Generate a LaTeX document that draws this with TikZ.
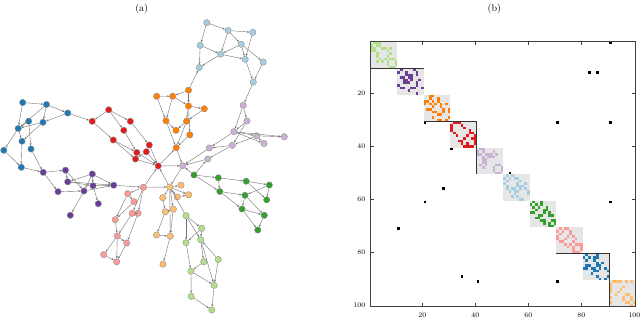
\documentclass[tikz,border=0pt]{standalone}
\usetikzlibrary{arrows.meta}
\definecolor{clg}{HTML}{B2DF8A}
\definecolor{cp}{HTML}{6A3D9A}
\definecolor{co}{HTML}{FF7F00}
\definecolor{cr}{HTML}{E31A1C}
\definecolor{clp}{HTML}{CAB2D6}
\definecolor{cl}{HTML}{A6CEE3}
\definecolor{cg}{HTML}{33A02C}
\definecolor{ck}{HTML}{FB9A99}
\definecolor{cb}{HTML}{1F78B4}
\definecolor{clo}{HTML}{FDBF6F}
\definecolor{blockbg}{HTML}{E6E6E6}
\def\edgesLG{1/2,1/4,1/3,2/3,2/4,3/6,3/8,4/7,5/8,5/3,6/7,7/8,7/9,8/10,9/10}
\def\edgesP{1/2,1/7,2/4,2/8,3/4,3/5,3/8,3/6,4/5,4/6,5/9,5/6,7/8,8/10,8/6}
\def\edgesO{1/3,1/4,2/3,2/6,3/6,3/4,4/5,4/7,5/7,6/8,6/10,7/8,7/10,9/10,4/9}
\def\edgesR{1/2,1/3,1/4,2/5,3/6,4/8,5/8,5/9,6/7,6/10,7/9,8/10,9/10,7/10}
\def\edgesLP{1/3,1/2,2/3,2/7,3/4,3/5,3/6,3/8,4/5,4/7,6/4,7/8,7/9,8/10,9/10}
\def\edgesL{1/2,1/4,2/3,2/5,2/6,3/7,4/6,4/9,5/6,5/8,5/7,6/7,6/9,7/10,8/10}
\def\edgesG{1/2,1/5,2/3,2/5,3/4,3/7,4/7,4/6,5/6,5/8,6/8,6/9,8/9,8/10,9/10}
\def\edgesK{1/2,1/4,1/5,2/3,2/6,3/6,4/5,4/7,5/8,6/7,7/8,7/9,7/10,9/10,8/10}
\def\edgesB{1/2,1/6,2/3,2/5,2/6,3/5,5/6,4/6,4/8,5/7,6/7,6/9,7/10,9/10}
\def\edgesLO{1/2,1/3,1/4,1/5,1/7,1/9,3/6,6/8,7/9,8/9,9/10,4/5,6/7}
\newcommand\mcell[3]{\fill[#1] ({370.7+(#2-1)*2.65},{41.7+(#3-1)*2.65}) rectangle ++(2.65,2.65);}
\newcommand\mpair[4]{\mcell{#1}{#2+#4}{#2+#3}\mcell{#1}{#2+#3}{#2+#4}}
\begin{document}
\begin{tikzpicture}[x=1pt,y=-1pt,
  vtx/.style={circle,draw=black!45,line width=0.35pt,inner sep=0pt,minimum size=6.4pt},
  edge/.style={draw=black!55,line width=0.4pt,-{Stealth[length=2.4pt,width=2pt]}},
  ticklab/.style={font=\fontsize{7}{8}\selectfont,inner sep=1pt},
  ticks/.style={draw=black!75,line width=0.5pt}]
\useasboundingbox (0,0) rectangle (640,319);
% ---------- titles
\node (la) at (141.7,8.8) {(a)};
\node (lb) at (494.3,8.8) {(b)};
% ---------- graph nodes
\foreach \n/\x/\y in {lg1/186/215.7,lg2/201.7/228.3,lg3/200.7/239.7,lg4/186/242.7,lg5/218.3/259.5,lg6/203.7/261.7,lg7/191/271.3,lg8/214.2/285.3,lg9/191.2/296.3,lg10/211.8/310}
  \node[vtx,fill=clg] (\n) at (\x,\y) {};
\foreach \n/\x/\y in {p1/43.2/172.3,p2/65.5/170.2,p3/92.3/174,p4/67.7/181.8,p5/93/185.7,p6/113.7/185.2,p7/58/191.7,p8/84/191,p9/98.3/203.7,p10/70.3/215.3}
  \node[vtx,fill=cp] (\n) at (\x,\y) {};
\foreach \n/\x/\y in {o1/188.5/90.2,o2/156.7/96.3,o3/172.7/96.2,o4/188.5/106,o5/204.3/108.8,o6/166/120.8,o7/186.5/121.2,o8/176/130.3,o9/189.8/134.8,o10/176.2/147.7}
  \node[vtx,fill=co] (\n) at (\x,\y) {};
\foreach \n/\x/\y in {r1/108.7/109.8,r2/92.2/121.3,r3/130.3/121.3,r4/123.8/130.3,r5/113.3/140,r6/149.3/145,r7/146.3/151.8,r8/136.8/152.5,r9/135.5/159,r10/158.2/166}
  \node[vtx,fill=cr] (\n) at (\x,\y) {};
\foreach \n/\x/\y in {lp1/243.2/105.3,lp2/247/121,lp3/233.9/131.7,lp4/256.5/135.8,lp5/284.3/136.8,lp6/264/143.5,lp7/232.3/145.3,lp8/209.3/148,lp9/207.7/159,lp10/182.7/165.7}
  \node[vtx,fill=clp] (\n) at (\x,\y) {};
\foreach \n/\x/\y in {l1/206.8/22.7,l2/228.2/30.5,l3/252.8/32.3,l4/200.2/45.3,l5/241.2/44.3,l6/220.7/54.2,l7/245.2/59.3,l8/263.2/62,l9/199.3/67.5,l10/253.3/82}
  \node[vtx,fill=cl] (\n) at (\x,\y) {};
\foreach \n/\x/\y in {g1/194/175,g2/218.3/177.8,g3/246.2/181.2,g4/269.3/185,g5/219.8/191.5,g6/245/195.3,g7/266.7/199.8,g8/242/209,g9/264.3/215.3,g10/257.8/230}
  \node[vtx,fill=cg] (\n) at (\x,\y) {};
\foreach \n/\x/\y in {k1/143.5/187.3,k2/127.7/193.7,k3/134/201.7,k4/132.2/213.3,k5/138/213.3,k6/115.2/219.7,k7/117.3/236,k8/126.7/243,k9/103.7/254.7,k10/116.7/261.8}
  \node[vtx,fill=ck] (\n) at (\x,\y) {};
\foreach \n/\x/\y in {b1/22.7/102.5,b2/46.5/104.5,b3/67.7/113,b4/28.7/121.2,b5/43/122.3,b6/18.2/128.5,b7/22/141.2,b8/31/149,b9/3.8/150.3,b10/21.3/167.3}
  \node[vtx,fill=cb] (\n) at (\x,\y) {};
\foreach \n/\x/\y in {lo1/169.7/187,lo2/181/185.2,lo3/162.7/197.7,lo4/177.2/197,lo5/188.7/194.8,lo6/165.3/211.8,lo7/173.3/209.2,lo8/156.5/235,lo9/170.3/236.2,lo10/163/264.2}
  \node[vtx,fill=clo] (\n) at (\x,\y) {};
% ---------- graph edges
\foreach \a/\b in \edgesLG {\draw[edge] (lg\a) -- (lg\b);}
\foreach \a/\b in \edgesP {\draw[edge] (p\a) -- (p\b);}
\foreach \a/\b in \edgesO {\draw[edge] (o\a) -- (o\b);}
\foreach \a/\b in \edgesR {\draw[edge] (r\a) -- (r\b);}
\foreach \a/\b in \edgesLP {\draw[edge] (lp\a) -- (lp\b);}
\foreach \a/\b in \edgesL {\draw[edge] (l\a) -- (l\b);}
\foreach \a/\b in \edgesG {\draw[edge] (g\a) -- (g\b);}
\foreach \a/\b in \edgesK {\draw[edge] (k\a) -- (k\b);}
\foreach \a/\b in \edgesB {\draw[edge] (b\a) -- (b\b);}
\foreach \a/\b in \edgesLO {\draw[edge] (lo\a) -- (lo\b);}
\foreach \a/\b in {b3/r2,b10/p1,b8/p1,p6/k1,r10/o10,r10/lp10,k1/r10,lo1/r10,o1/l9,l10/lp1,lp10/lo1,g1/lp10,lg1/lo1,k1/lo1,o10/lp10,g1/lp9}
  {\draw[edge] (\a) -- (\b);}
% ---------- matrix blocks
\foreach \k in {0,...,9}
  {\fill[blockbg] ({370.7+\k*26.5},{41.7+\k*26.5}) rectangle ++(26.5,26.5);}
\foreach \a/\b in \edgesLG {\mpair{clg}{0}{\a}{\b}}
\foreach \a/\b in \edgesP {\mpair{cp}{10}{\a}{\b}}
\foreach \a/\b in \edgesO {\mpair{co}{20}{\a}{\b}}
\foreach \a/\b in \edgesR {\mpair{cr}{30}{\a}{\b}}
\foreach \a/\b in \edgesLP {\mpair{clp}{40}{\a}{\b}}
\foreach \a/\b in \edgesL {\mpair{cl}{50}{\a}{\b}}
\foreach \a/\b in \edgesG {\mpair{cg}{60}{\a}{\b}}
\foreach \a/\b in \edgesK {\mpair{ck}{70}{\a}{\b}}
\foreach \a/\b in \edgesB {\mpair{cb}{80}{\a}{\b}}
\foreach \a/\b in \edgesLO {\mpair{clo}{90}{\a}{\b}}
% off-block entries
\foreach \c/\r in {91/1,83/12,86/12,21/31,71/31,91/31,31/41,53/50,28/56,21/61,91/61,11/71,35/89,41/91,71/91}
  {\mcell{black}{\c}{\r}}
% hierarchy lines
\draw[black!80,line width=0.7pt] (370.7,68.2) -- (423.7,68.2);
\draw[black!80,line width=0.7pt] (423.7,121.2) -- (476.7,121.2) -- (476.7,174.2);
\draw[black!80,line width=0.7pt] (556.2,253.7) -- (609.2,253.7) -- (609.2,306.7);
% frame and ticks
\draw[black!75,line width=0.8pt] (370.7,41.7) rectangle (635.7,306.7);
\foreach \v in {20,40,60,80} {
  \draw[ticks] ({370.7+(\v-0.5)*2.65},41.7) -- ++(0,3.5);
  \draw[ticks] ({370.7+(\v-0.5)*2.65},306.7) -- ++(0,-3.5);
  \draw[ticks] (370.7,{41.7+(\v-0.5)*2.65}) -- ++(3.5,0);
  \draw[ticks] (635.7,{41.7+(\v-0.5)*2.65}) -- ++(-3.5,0);
}
\foreach \v in {20,40,60,80,100} {
  \node[ticklab,anchor=east] (yl\v) at (366.5,{41.7+(\v-0.5)*2.65}) {\v};
  \node[ticklab] (xl\v) at ({370.7+(\v-0.5)*2.65},315.5) {\v};
}
\end{tikzpicture}
\end{document}
